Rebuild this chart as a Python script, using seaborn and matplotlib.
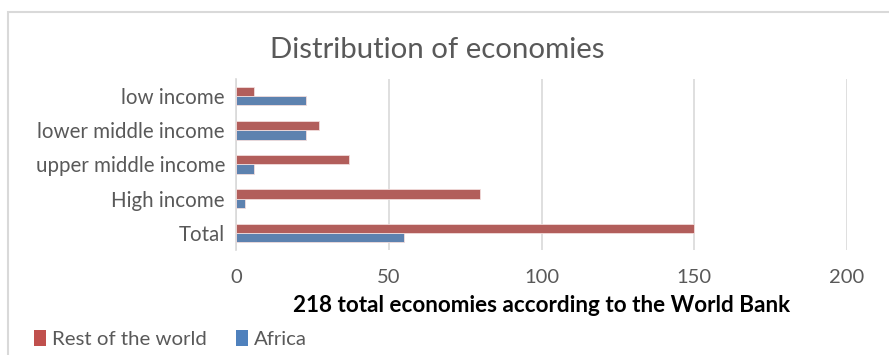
import matplotlib
matplotlib.use("Agg")
import matplotlib.pyplot as plt
from matplotlib.patches import Rectangle, Patch
import seaborn as sns
import pandas as pd

categories = ["low income", "lower middle income", "upper middle income", "High income", "Total"]
rest_of_world = [6, 27, 37, 80, 150]
africa = [23, 23, 6, 3, 55]
series_names = ["Rest of the world", "Africa"]
x_ticks = [0, 50, 100, 150, 200]

df = pd.DataFrame({
    "category": categories * 2,
    "value": rest_of_world + africa,
    "series": [series_names[0]] * len(categories) + [series_names[1]] * len(categories),
})

sns.set_style("white")
plt.rcParams["font.family"] = ["Lato", "DejaVu Sans"]

red, blue = "#C0504D", "#4F81BD"
grey_text = "#595959"

fig = plt.figure(figsize=(8.89, 3.55), dpi=100)
ax = fig.add_axes([0.2655, 0.2958, 0.6873, 0.4817])

sns.barplot(data=df, y="category", x="value", hue="series", order=categories,
            hue_order=series_names, palette=[red, blue], width=0.54, orient="h",
            edgecolor="#F2DCDB", linewidth=0.6, legend=False, ax=ax, zorder=3)

ax.set_xlim(0, 200)
ax.set_ylim(4.5, -0.5)
ax.set_xticks(x_ticks)
ax.grid(axis="x", color="#D9D9D9", linewidth=1.2, zorder=0)
ax.grid(axis="y", visible=False)
for s in ["top", "right", "bottom"]:
    ax.spines[s].set_visible(False)
ax.spines["left"].set_color("#D9D9D9")
ax.spines["left"].set_linewidth(1.2)
ax.tick_params(axis="y", length=0, labelsize=14.8, colors=grey_text, pad=8)
ax.tick_params(axis="x", length=0, labelsize=14.5, colors=grey_text, pad=14)
ax.set_ylabel("")
ax.set_xlabel("218 total economies according to the World Bank", fontsize=16.2,
              fontweight="bold", color="black", labelpad=6)

fig.text(0.492, 0.858, "Distribution of economies", ha="center", va="center",
         fontsize=21.2, color=grey_text)

handles = [Patch(facecolor=red, edgecolor="none"), Patch(facecolor=blue, edgecolor="none")]
fig.legend(handles, series_names, loc="center left", bbox_to_anchor=(0.038, 0.045),
           ncol=2, frameon=False, fontsize=14.7, labelcolor=grey_text,
           handlelength=0.6, handleheight=0.85, handletextpad=0.3, columnspacing=1.4,
           borderpad=0, borderaxespad=0)

# chart frame
fig.patches.append(Rectangle((8 / 889, -0.1), 1.2, 1.1 - 12 / 355, transform=fig.transFigure,
                             fill=False, edgecolor="#D9D9D9", linewidth=1.5))

fig.savefig("out.png", dpi=100, facecolor="white")
